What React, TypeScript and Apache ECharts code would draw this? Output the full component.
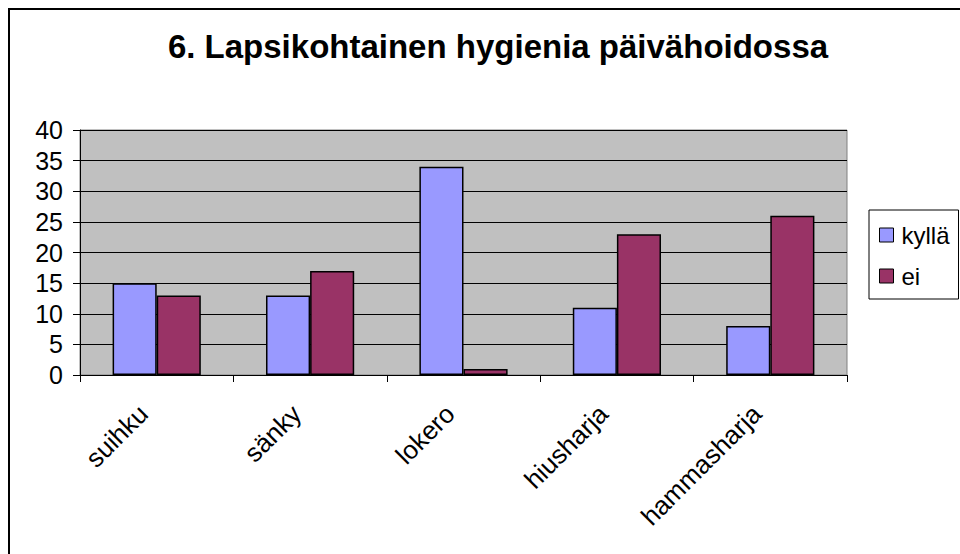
import React, { useEffect, useRef } from "react";
import * as echarts from "echarts";

const titleText = "6. Lapsikohtainen hygienia päivähoidossa";
const categories = ["suihku", "sänky", "lokero", "hiusharja", "hammasharja"];
const seriesNames = ["kyllä", "ei"];
const kyllaValues = [15, 13, 34, 11, 8];
const eiValues = [13, 17, 1, 23, 26];
const yTicks = { min: 0, max: 40, interval: 5 };

const FONT = "Arial, 'Liberation Sans', sans-serif";

export default function App() {
  const ref = useRef<HTMLDivElement>(null);
  useEffect(() => {
    if (!ref.current) return;
    const chart = echarts.init(ref.current, null, { renderer: "svg" });
    chart.setOption({
      animation: false,
      backgroundColor: "#ffffff",
      textStyle: { fontFamily: FONT },
      title: {
        text: titleText,
        left: 490,
        textAlign: "center",
        top: 22,
        padding: 0,
        textStyle: { fontFamily: FONT, fontSize: 33, fontWeight: "bold", color: "#000" },
      },
      legend: {
        data: seriesNames,
        orient: "vertical",
        left: 861,
        top: 202,
        padding: [13, 9, 11, 10],
        itemWidth: 14,
        itemHeight: 14,
        itemGap: 17,
        borderColor: "#000",
        borderWidth: 1,
        icon: "rect",
        itemStyle: { borderColor: "#000", borderWidth: 1 },
        textStyle: { fontFamily: FONT, fontSize: 24, color: "#000", padding: [0, 0, 0, 3] },
      },
      grid: {
        left: 72,
        right: 113,
        top: 122,
        bottom: 179,
        show: true,
        backgroundColor: "#C0C0C0",
        borderColor: "#808080",
        borderWidth: 1,
      },
      xAxis: {
        type: "category",
        data: categories,
        axisLine: { show: true, lineStyle: { color: "#000", width: 1 } },
        axisTick: { show: true, length: 7, lineStyle: { color: "#000" } },
        axisLabel: {
          rotate: 45,
          margin: 21,
          padding: [0, 19, 0, 0],
          fontSize: 26,
          fontFamily: FONT,
          color: "#000",
          interval: 0,
        },
      },
      yAxis: {
        type: "value",
        min: yTicks.min,
        max: yTicks.max,
        interval: yTicks.interval,
        axisLine: { show: true, lineStyle: { color: "#000", width: 1 } },
        axisTick: { show: true, length: 7, lineStyle: { color: "#000" } },
        axisLabel: { margin: 17, fontSize: 25, fontFamily: FONT, color: "#000" },
        splitLine: { show: true, lineStyle: { color: "#000", width: 1 } },
      },
      series: [
        {
          name: seriesNames[0],
          type: "bar",
          data: kyllaValues,
          barGap: "0%",
          barCategoryGap: "42.5%",
          itemStyle: { color: "#9999FF", borderColor: "#000", borderWidth: 1.5 },
        },
        {
          name: seriesNames[1],
          type: "bar",
          data: eiValues,
          barGap: "0%",
          barCategoryGap: "42.5%",
          itemStyle: { color: "#993366", borderColor: "#000", borderWidth: 1.5 },
        },
      ],
    });
    return () => chart.dispose();
  }, []);
  return (
    <div
      style={{
        position: "fixed",
        left: 8,
        top: 8,
        width: 952,
        height: 546,
        borderTop: "2px solid #000",
        borderLeft: "2px solid #000",
        boxSizing: "border-box",
        overflow: "hidden",
      }}
    >
      <div ref={ref} style={{ position: "absolute", left: -2, top: -2, width: 952, height: 546 }} />
    </div>
  );
}
